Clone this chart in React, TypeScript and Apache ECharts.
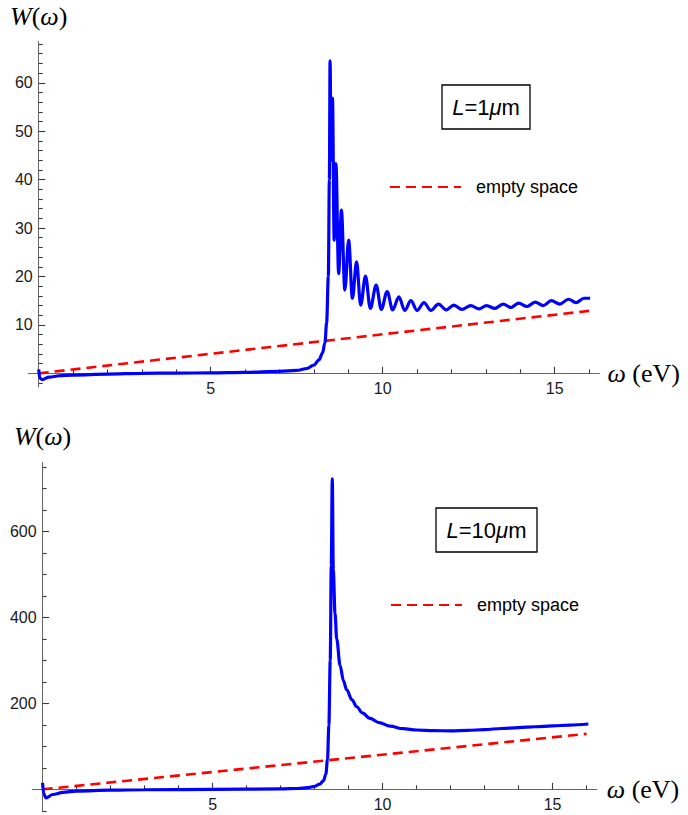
import React, { useEffect, useRef } from 'react';
import * as echarts from 'echarts';

// ---- tick values ----
const xMajorTicks = [5, 10, 15];
const xMinorTicks = [1, 2, 3, 4, 6, 7, 8, 9, 11, 12, 13, 14, 16];
const topYMajorTicks = [10, 20, 30, 40, 50, 60];
const topYMinorTicks = [-2, 2, 4, 6, 8, 12, 14, 16, 18, 22, 24, 26, 28, 32, 34, 36, 38, 42, 44, 46, 48, 52, 54, 56, 58, 62, 64, 66, 68];
const bottomYMajorTicks = [200, 400, 600];
const bottomYMinorTicks = [-50, 50, 100, 150, 250, 300, 350, 450, 500, 550, 650, 700, 750];

// ---- series: L = 1 μm ----
const topW: [number, number][] = [
  [0, 0.8], [0.03, -1.0], [0.1, -1.3], [0.3, -0.8], [0.6, -0.5], [1.0, -0.35], [2, -0.15], [3, 0], [4, 0.05],
  [5, 0.1], [6, 0.2], [7, 0.4], [7.5, 0.6], [7.8, 1.0], [8.0, 1.7], [8.15, 2.8], [8.25, 4.2], [8.32, 6.3],
  [8.37, 10.4], [8.42, 20], [8.45, 40], [8.47, 64.5], [8.5, 44], [8.54, 56.8], [8.59, 27.5], [8.64, 43.3],
  [8.72, 20.6], [8.8, 33.7], [8.9, 17.2], [9.01, 27.5], [9.12, 15.5], [9.24, 23], [9.36, 14.1], [9.5, 20.1],
  [9.64, 13.4], [9.81, 18.2], [9.96, 13.2], [10.13, 16.9], [10.29, 13.1], [10.47, 15.8], [10.64, 13.0],
  [10.82, 15.0], [11.0, 13.0], [11.2, 14.6], [11.4, 13.0], [11.62, 14.3], [11.85, 13.1], [12.07, 14.1],
  [12.3, 13.2], [12.56, 14.0], [12.8, 13.3], [13.02, 14.0], [13.26, 13.4], [13.5, 14.3], [13.73, 13.6],
  [13.95, 14.5], [14.2, 13.8], [14.43, 14.7], [14.67, 14.0], [14.9, 15.0], [15.15, 14.3], [15.4, 15.3],
  [15.62, 14.6], [15.85, 15.5], [16.03, 15.5],
];
const topEmpty: [number, number][] = [[0, 0], [16, 12.9]];

// ---- series: L = 10 μm ----
const bottomW: [number, number][] = [
  [0, 15], [0.03, -10], [0.1, -20], [0.3, -12], [0.6, -7], [1, -4], [2, -2], [3, -1], [5, 0], [7, 1],
  [7.5, 2], [7.8, 4], [8.0, 7], [8.15, 12], [8.26, 20], [8.33, 35], [8.38, 70], [8.42, 150], [8.46, 300],
  [8.49, 520], [8.52, 722], [8.55, 510], [8.6, 410], [8.65, 350], [8.75, 288], [8.85, 252], [8.94, 232],
  [9.1, 208], [9.24, 192], [9.4, 178], [9.63, 165], [9.9, 155], [10.22, 147], [10.6, 141], [11.0, 138],
  [11.5, 136.5], [12.0, 136], [12.5, 137], [13.0, 139], [13.5, 141.5], [14.0, 143.5], [14.5, 145.5],
  [15.0, 147.5], [15.5, 149.5], [16.05, 152],
];
const bottomEmpty: [number, number][] = [[0, 0], [16, 129]];

const legendName = 'empty space';
const topTag = '{i|L}=1{i|μ}m';
const bottomTag = '{i|L}=10{i|μ}m';
const xName = '{i|ω} (eV)';
const yName = '{i|W}({i|ω})';

const AXIS = '#666666';
const TICK = '#3a3a3a';
const LABEL = '#1a1a1a';
const SANS = 'Liberation Sans, Arial, sans-serif';
const SERIF = 'Liberation Serif, Times New Roman, serif';

type GridBox = { left: number; top: number; width: number; height: number };
const topGrid: GridBox = { left: 28.4, top: 41.6, width: 571, height: 345.3 };
const bottomGrid: GridBox = { left: 32.4, top: 462.5, width: 564.4, height: 349.2 };
const xRange: [number, number] = [-0.3, 16.3];
const topYRange: [number, number] = [-2.8, 68.5];
const bottomYRange: [number, number] = [-52, 760];

// pixel distance from the grid's low edge to the value 0 of an axis
function zeroShift(range: [number, number], size: number) {
  return ((0 - range[0]) / (range[1] - range[0])) * size;
}

function xAxes(grid: number, g: GridBox, yRange: [number, number], nameGap: number) {
  const off = -zeroShift(yRange, g.height);
  const base = {
    type: 'value', gridIndex: grid, min: xRange[0], max: xRange[1], position: 'bottom', offset: off,
    splitLine: { show: false },
  };
  return [
    {
      ...base,
      name: xName,
      nameLocation: 'end',
      nameGap,
      nameTextStyle: {
        fontFamily: SERIF, fontSize: 26, color: '#000', verticalAlign: 'middle', align: 'left',
        rich: { i: { fontFamily: SERIF, fontSize: 26, fontStyle: 'italic', color: '#000' } },
      },
      axisLine: { show: true, onZero: false, lineStyle: { color: AXIS, width: 1 } },
      axisTick: { show: true, inside: true, length: 6.5, customValues: xMajorTicks, lineStyle: { color: TICK, width: 1.1 } },
      axisLabel: { show: true, customValues: xMajorTicks, margin: 7, fontSize: 16, fontFamily: SANS, color: LABEL },
    },
    {
      ...base,
      axisLine: { show: false, onZero: false },
      axisTick: { show: true, inside: true, length: 4, customValues: xMinorTicks, lineStyle: { color: TICK, width: 1.1 } },
      axisLabel: { show: false },
    },
  ];
}

function yAxes(grid: number, g: GridBox, yRange: [number, number], major: number[], minor: number[], gap: number) {
  const off = -zeroShift(xRange, g.width);
  const base = {
    type: 'value', gridIndex: grid, min: yRange[0], max: yRange[1], position: 'left', offset: off,
    splitLine: { show: false },
  };
  return [
    {
      ...base,
      name: yName,
      nameLocation: 'end',
      nameGap: gap,
      nameTextStyle: {
        fontFamily: SERIF, fontSize: 26, color: '#000',
        rich: { i: { fontFamily: SERIF, fontSize: 26, fontStyle: 'italic', color: '#000' } },
      },
      axisLine: { show: true, onZero: false, lineStyle: { color: AXIS, width: 1 } },
      axisTick: { show: true, inside: true, length: 6.5, customValues: major, lineStyle: { color: TICK, width: 1.1 } },
      axisLabel: { show: true, customValues: major, margin: 6, fontSize: 16, fontFamily: SANS, color: LABEL },
    },
    {
      ...base,
      axisLine: { show: false, onZero: false },
      axisTick: { show: true, inside: true, length: 4, customValues: minor, lineStyle: { color: TICK, width: 1.1 } },
      axisLabel: { show: false },
    },
  ];
}

function tagBox(x: number, y: number, w: number, h: number, text: string) {
  return [
    { type: 'rect', shape: { x, y, width: w, height: h }, style: { fill: '#fff', stroke: '#000', lineWidth: 1.3 }, z: 10 },
    {
      type: 'text', x: x + w / 2, y: y + h / 2, z: 11,
      style: {
        text, fill: '#000', fontSize: 22, fontFamily: SANS, align: 'center', verticalAlign: 'middle',
        rich: { i: { fontStyle: 'italic', fontSize: 22, fontFamily: SANS, fill: '#000' } },
      },
    },
  ];
}

function legend(left: number, top: number) {
  return {
    data: [legendName], left, top, padding: 0, itemWidth: 71, itemHeight: 14, selectedMode: false,
    itemStyle: { color: 'rgba(0,0,0,0)', opacity: 0, borderWidth: 0 },
    textStyle: { fontSize: 18, fontFamily: SANS, color: '#000', padding: [0, 0, 0, 10] },
  };
}

const blueStyle = { color: '#0000ff', width: 3.2 };
const redStyle = { color: '#ff0000', width: 2.6, type: [10, 6] };

export default function App() {
  const ref = useRef<HTMLDivElement>(null);
  useEffect(() => {
    if (!ref.current) return;
    const chart = echarts.init(ref.current, null, { renderer: 'svg' });
    chart.setOption({
      animation: false,
      backgroundColor: '#fff',
      grid: [
        { ...topGrid, outerBoundsMode: 'none' },
        { ...bottomGrid, outerBoundsMode: 'none' },
      ],
      xAxis: [...xAxes(0, topGrid, topYRange, 8), ...xAxes(1, bottomGrid, bottomYRange, 10)],
      yAxis: [
        ...yAxes(0, topGrid, topYRange, topYMajorTicks, topYMinorTicks, 12),
        ...yAxes(1, bottomGrid, bottomYRange, bottomYMajorTicks, bottomYMinorTicks, 13),
      ],
      legend: [legend(389, 178), legend(390, 596)],
      series: [
        { name: legendName, type: 'line', xAxisIndex: 0, yAxisIndex: 0, data: topEmpty, symbol: 'none', showSymbol: false, lineStyle: redStyle, itemStyle: { color: '#ff0000' }, clip: false, z: 2 },
        { type: 'line', xAxisIndex: 0, yAxisIndex: 0, data: topW, symbol: 'none', showSymbol: false, smooth: 0.35, smoothMonotone: 'x', lineStyle: blueStyle, clip: false, z: 3 },
        { name: legendName, type: 'line', xAxisIndex: 2, yAxisIndex: 2, data: bottomEmpty, symbol: 'none', showSymbol: false, lineStyle: redStyle, itemStyle: { color: '#ff0000' }, clip: false, z: 2 },
        { type: 'line', xAxisIndex: 2, yAxisIndex: 2, data: bottomW, symbol: 'none', showSymbol: false, smooth: 0.35, smoothMonotone: 'x', lineStyle: blueStyle, clip: false, z: 3 },
      ],
      graphic: [...tagBox(442, 85, 88, 44, topTag), ...tagBox(436, 508, 101, 44, bottomTag)],
    });
    return () => chart.dispose();
  }, []);
  return <div ref={ref} style={{ position: 'absolute', left: 0, top: 0, width: 688, height: 815 }} />;
}
